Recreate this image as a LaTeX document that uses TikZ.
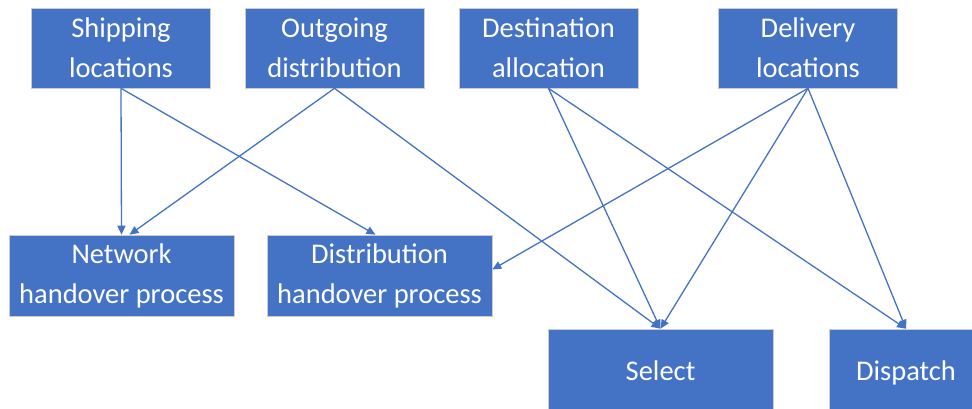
\documentclass[tikz,border=0pt]{standalone}
\usepackage{fontspec}
\setmainfont{Carlito}
\usepackage{xcolor}
\usetikzlibrary{arrows.meta}
\definecolor{boxblue}{HTML}{4472C4}

\begin{document}
\begin{tikzpicture}[x=1pt, y=-1pt, >={Triangle[length=9pt,width=8pt]},
    procbox/.style={rectangle, fill=boxblue, draw=gray!40, line width=0.6pt,
        text=white, align=center, inner sep=0pt,
        font=\fontsize{28.5}{40}\selectfont},
    link/.style={->, boxblue, line width=1.3pt}]
                % Canvas
                \useasboundingbox (0,0) rectangle (972,409);
                \clip (0,0) rectangle (972,409);

                % Top row
                \node[procbox, minimum width=179, minimum height=80] (ship) at (121,48) {Shipping\\locations};
                \node[procbox, minimum width=179, minimum height=80] (outgo) at (334.5,48) {Outgoing\\distribution};
                \node[procbox, minimum width=179, minimum height=80] (dest) at (548.5,48) {Destination\\allocation};
                \node[procbox, minimum width=179, minimum height=80] (deliv) at (808,48) {Delivery\\locations};

                % Middle row
                \node[procbox, minimum width=225, minimum height=81] (net) at (121.5,275.5) {Network\\handover process};
                \node[procbox, minimum width=225, minimum height=81] (dist) at (379.5,275.5) {Distribution\\handover process};

                % Bottom row (cut off by the page)
                \node[procbox, minimum width=225, minimum height=80, text height=22, text depth=0] (select) at (660.5,369) {Select};
                \node[procbox, minimum width=154, minimum height=80, text height=22, text depth=0] (dispatch) at (906,369) {Dispatch};

                % Links
                \draw[link] (ship.south) -- (net.north);
                \draw[link] (ship.south) -- ([xshift=-4]dist.north);
                \draw[link] (outgo.south) -- ([xshift=8]net.north);
                \draw[link] (outgo.south) -- (select.north);
                \draw[link] (dest.south) -- (select.north);
                \draw[link] (dest.south) -- (dispatch.north);
                \draw[link] (deliv.south) -- ([yshift=6]dist.east);
                \draw[link] (deliv.south) -- (select.north);
                \draw[link] (deliv.south) -- (dispatch.north);
            \end{tikzpicture}
\end{document}
